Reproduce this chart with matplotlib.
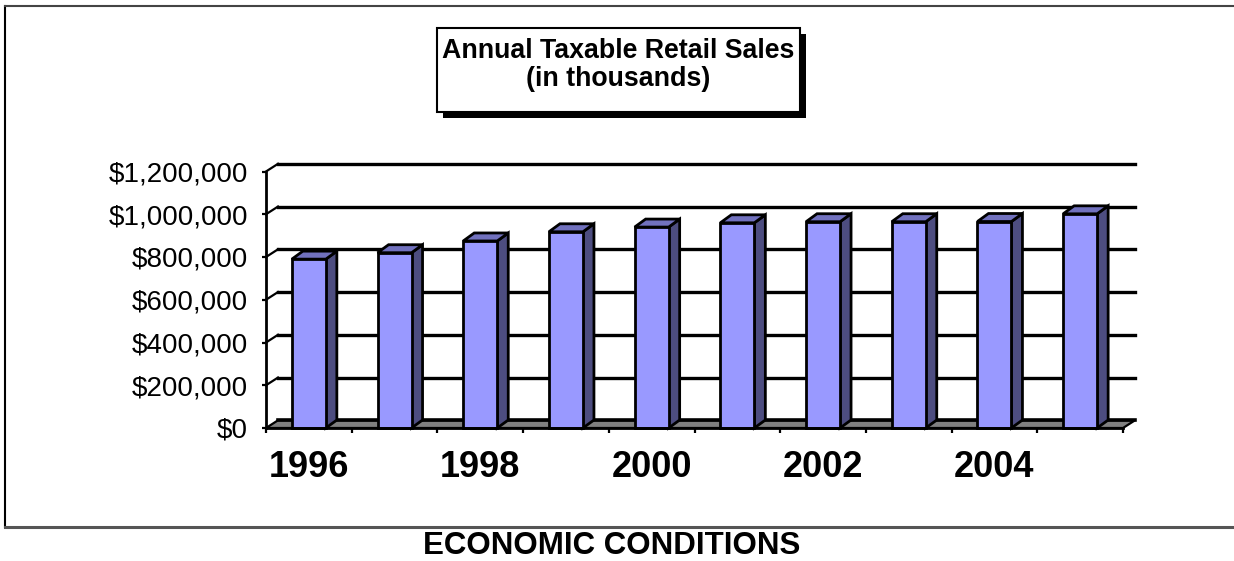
import matplotlib
matplotlib.use("Agg")
import matplotlib.pyplot as plt
from matplotlib.patches import Polygon, Rectangle
from matplotlib.lines import Line2D
from matplotlib import transforms
from matplotlib.ticker import FuncFormatter

# --- data -------------------------------------------------------------
years = [1996, 1997, 1998, 1999, 2000, 2001, 2002, 2003, 2004, 2005]
sales = [790000, 820000, 875000, 918000, 940000, 960000, 965000, 965000, 966000, 1002000]
value_ticks = [0, 200000, 400000, 600000, 800000, 1000000, 1200000]
labelled_years = [1996, 1998, 2000, 2002, 2004]
title_lines = ["Annual Taxable Retail Sales", "(in thousands)"]
footer = "ECONOMIC CONDITIONS"

# --- styling ----------------------------------------------------------
W, H = 1234, 561
DPI = 100
FONT = "Liberation Sans"
FRONT = "#9999FF"
SIDE = "#4D4D80"
TOP = "#7171BE"
FLOOR = "#808080"

plt.rcParams["font.family"] = [FONT, "DejaVu Sans"]

fig = plt.figure(figsize=(W / DPI, H / DPI), dpi=DPI)
fig.patch.set_facecolor("white")


def fx(px):
    return px / W


def fy(py):
    return 1 - py / H


# front plane of the 3-D plot
ax_left, ax_right, ax_bot, ax_top = 266, 1123, 428, 171.5
ax = fig.add_axes([fx(ax_left), fy(ax_bot), (ax_right - ax_left) / W, (ax_bot - ax_top) / H])
n = len(years)
vmax = value_ticks[-1]
ax.set_xlim(-0.5, n - 0.5)
ax.set_ylim(0, vmax)
ax.set_facecolor("none")

px_per_cat = (ax_right - ax_left) / n
val_per_px = vmax / (ax_bot - ax_top)

# depth of the wall/floor and of the columns, in data units
DX = 12 / px_per_cat
DY = 7.7 * val_per_px
BDX = 11 / px_per_cat
BDY = 8 * val_per_px

# gridlines on the back wall
for v in value_ticks[1:]:
    ax.add_line(Line2D([-0.5 + DX, n - 0.5 + DX], [v + DY, v + DY], color="black",
                       lw=2.4, clip_on=False, zorder=1))
    ax.add_line(Line2D([-0.5, -0.5 + DX], [v, v + DY], color="black",
                       lw=1.6, clip_on=False, zorder=1))

# floor
floor = Polygon([(-0.5, 0), (n - 0.5, 0), (n - 0.5 + DX, DY), (-0.5 + DX, DY)],
                closed=True, facecolor=FLOOR, edgecolor="black", lw=1.6,
                clip_on=False, zorder=2)
ax.add_patch(floor)
ax.add_line(Line2D([-0.5 + DX, n - 0.5 + DX], [DY, DY], color="black", lw=2.6,
                   clip_on=False, zorder=2))

# columns
x = list(range(n))
bw = 34 / px_per_cat
ax.bar(x, sales, width=bw, color=FRONT, edgecolor="black", lw=2, zorder=4, clip_on=False)
for xi, v in zip(x, sales):
    r = xi + bw / 2
    l = xi - bw / 2
    side = Polygon([(r, 0), (r + BDX, BDY), (r + BDX, v + BDY), (r, v)], closed=True,
                   facecolor=SIDE, edgecolor="black", lw=2, joinstyle="miter",
                   clip_on=False, zorder=3)
    top = Polygon([(l, v), (r, v), (r + BDX, v + BDY), (l + BDX, v + BDY)], closed=True,
                  facecolor=TOP, edgecolor="black", lw=2, joinstyle="miter",
                  clip_on=False, zorder=3)
    ax.add_patch(side)
    ax.add_patch(top)

# axes: spines, ticks and labels
for s in ("top", "right"):
    ax.spines[s].set_visible(False)
ax.spines["left"].set_linewidth(2)
ax.spines["bottom"].set_linewidth(2)
ax.spines["left"].set_zorder(5)
ax.spines["bottom"].set_zorder(5)

ax.set_yticks(value_ticks)
ax.yaxis.set_major_formatter(FuncFormatter(lambda v, p: f"${int(v):,}"))
ax.tick_params(axis="y", direction="out", length=3, width=1.6, pad=10,
               labelsize=20, colors="black")
ax.set_xticks([i - 0.5 for i in range(n + 1)])
ax.set_xticklabels([])
ax.tick_params(axis="x", direction="out", length=3.6, width=1.6)

label_tr = transforms.offset_copy(ax.transData, fig=fig, x=0, y=-49, units="dots")
for yr in labelled_years:
    ax.text(years.index(yr), 0, str(yr), transform=label_tr, ha="center", va="baseline",
            fontsize=26, fontweight="bold", color="black")

# title box with drop shadow
bx0, by0, bx1, by1 = 437, 28, 800, 112
sh = 6
fig.patches.append(Rectangle((fx(bx0 + sh), fy(by1 + sh)), (bx1 - bx0) / W, (by1 - by0) / H,
                             transform=fig.transFigure, facecolor="black", edgecolor="none",
                             zorder=1))
fig.patches.append(Rectangle((fx(bx0), fy(by1)), (bx1 - bx0) / W, (by1 - by0) / H,
                             transform=fig.transFigure, facecolor="white", edgecolor="black",
                             lw=1.5, zorder=2))
cx = (bx0 + bx1) / 2
fig.text(fx(cx), fy(57.5), title_lines[0], ha="center", va="baseline", fontsize=19.3,
         fontweight="bold", zorder=3)
fig.text(fx(cx), fy(86), title_lines[1], ha="center", va="baseline", fontsize=19.3,
         fontweight="bold", zorder=3)

# outer frame
fig.lines.append(Line2D([fx(5), fx(5)], [fy(6), fy(527)], transform=fig.transFigure,
                        color="black", lw=1.5))
fig.lines.append(Line2D([fx(5), fx(W)], [fy(6), fy(6)], transform=fig.transFigure,
                        color="#444444", lw=1.5))
fig.lines.append(Line2D([fx(5), fx(W)], [fy(527), fy(527)], transform=fig.transFigure,
                        color="#555555", lw=2.2))

fig.text(fx(612), fy(554), footer, ha="center", va="baseline", fontsize=22.5,
         fontweight="bold")

fig.savefig("out.png", dpi=DPI, facecolor="white")
